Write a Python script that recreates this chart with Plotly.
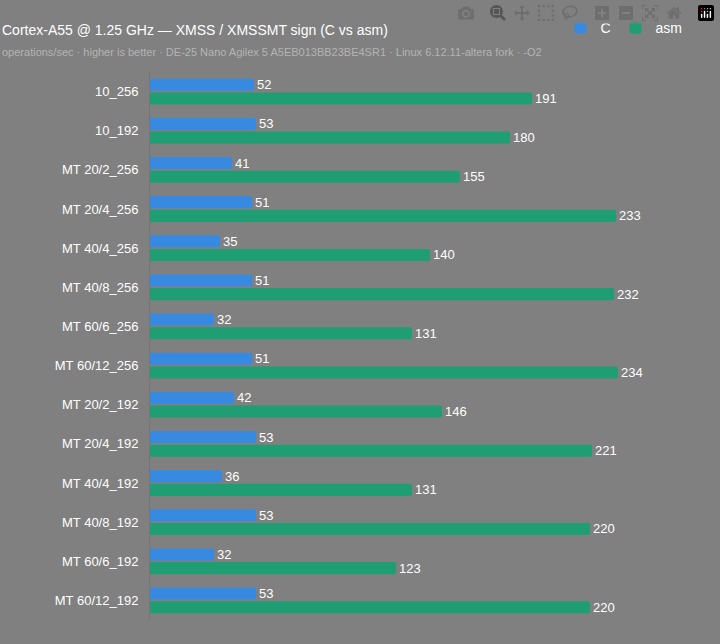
import plotly.graph_objects as go

categories = ["10_256", "10_192", "MT 20/2_256", "MT 20/4_256", "MT 40/4_256",
              "MT 40/8_256", "MT 60/6_256", "MT 60/12_256", "MT 20/2_192",
              "MT 20/4_192", "MT 40/4_192", "MT 40/8_192", "MT 60/6_192",
              "MT 60/12_192"]
c_vals = [52, 53, 41, 51, 35, 51, 32, 51, 42, 53, 36, 53, 32, 53]
asm_vals = [191, 180, 155, 233, 140, 232, 131, 234, 146, 221, 131, 220, 123, 220]

fig = go.Figure()
for name, vals, color in [("C", c_vals, "#388ae0"), ("asm", asm_vals, "#1e9e72")]:
    fig.add_trace(go.Bar(y=categories, x=vals, name=name, orientation="h",
                         marker=dict(color=color, line=dict(width=0)),
                         text=vals, textposition="outside", constraintext="none",
                         textfont=dict(color="#ffffff", size=13), cliponaxis=False))

fig.update_layout(
    width=720, height=644,
    paper_bgcolor="#808080", plot_bgcolor="#808080",
    font=dict(family="Liberation Sans, Arial, sans-serif", color="#ffffff", size=13),
    margin=dict(l=150, r=30, t=62, b=24),
    barmode="group", bargap=0.3, bargroupgap=0.12, barcornerradius=2,
    showlegend=True,
    legend=dict(orientation="h", x=0.76, xanchor="left", y=1.08, yanchor="middle",
                font=dict(size=14), bgcolor="rgba(0,0,0,0)", itemwidth=30,
                tracegroupgap=0),
    xaxis=dict(range=[0, 270], showgrid=False, showticklabels=False, zeroline=False),
    yaxis=dict(autorange="reversed", showline=True, linecolor="#767676", linewidth=1,
               ticks="", ticklabelstandoff=8, tickfont=dict(size=13)),
    annotations=[
        dict(text="Cortex-A55 @ 1.25 GHz — XMSS / XMSSMT sign (C vs asm)",
             xref="paper", yref="paper", x=-150/540, y=1 + 43/558, xanchor="left",
             yanchor="middle", showarrow=False, font=dict(size=14, color="#ffffff")),
        dict(text="operations/sec · higher is better · DE-25 Nano Agilex 5 "
                  "A5EB013BB23BE4SR1 · Linux 6.12.11-altera fork · -O2",
             xref="paper", yref="paper", x=-150/540, y=1 + 20/558, xanchor="left",
             yanchor="middle", showarrow=False, font=dict(size=11, color="#b4b4b4")),
    ],
)

fig.write_html("out.html", post_script="document.body.style.margin='0';")
